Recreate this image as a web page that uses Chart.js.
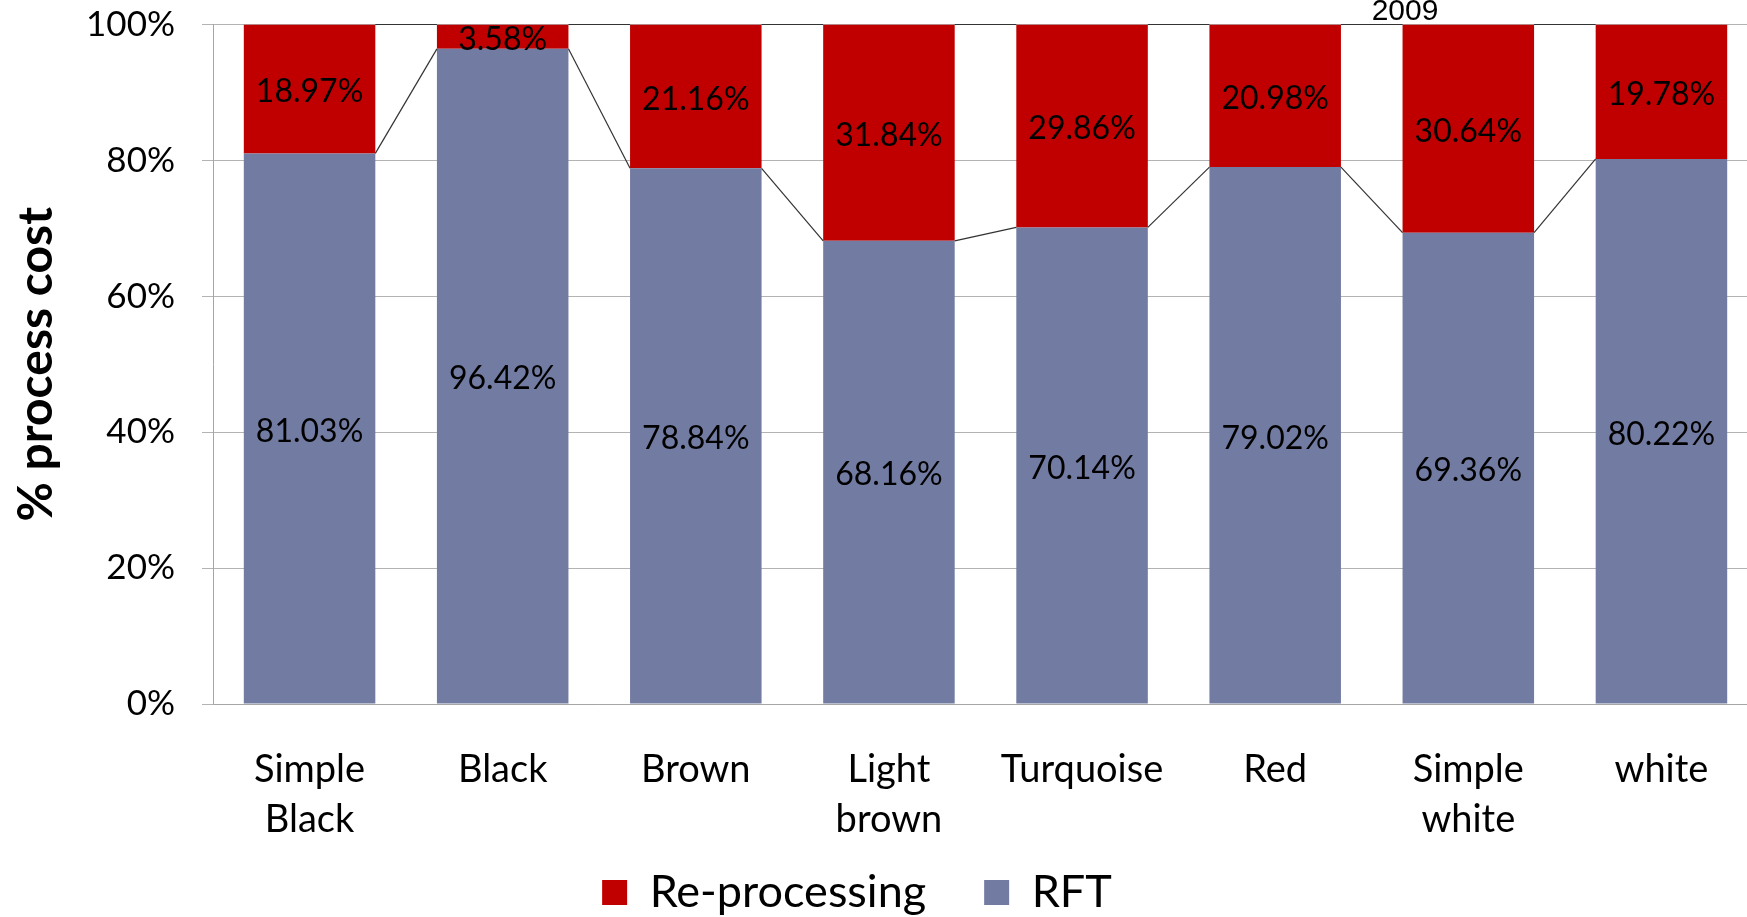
<!DOCTYPE html>
<html>
<head>
<meta charset="utf-8">
<script src="https://cdn.jsdelivr.net/npm/chart.js@4/dist/chart.umd.min.js"></script>
<style>
  html, body { margin: 0; padding: 0; background: #fff; overflow: hidden; }
  #wrap { width: 1758px; height: 917px; }
</style>
</head>
<body>
<div id="wrap"><canvas id="c" width="1758" height="917"></canvas></div>
<script>
const categories = [['Simple', 'Black'], 'Black', 'Brown', ['Light', 'brown'], 'Turquoise', 'Red', ['Simple', 'white'], 'white'];
const rftValues = [81.03, 96.42, 78.84, 68.16, 70.14, 79.02, 69.36, 80.22];
const reprocessingValues = [18.97, 3.58, 21.16, 31.84, 29.86, 20.98, 30.64, 19.78];
const yTicks = [0, 20, 40, 60, 80, 100];
const chartTitle = '2009';
const yAxisTitle = '% process cost';

const seriesLinesPlugin = {
  id: 'seriesLines',
  afterDatasetsDraw(chart) {
    const ctx = chart.ctx;
    ctx.save();
    ctx.strokeStyle = '#333333';
    ctx.lineWidth = 1.2;
    chart.data.datasets.forEach((ds, di) => {
      const meta = chart.getDatasetMeta(di);
      for (let i = 0; i < meta.data.length - 1; i++) {
        const a = meta.data[i], b = meta.data[i + 1];
        ctx.beginPath();
        ctx.moveTo(a.x + a.width / 2, a.y);
        ctx.lineTo(b.x - b.width / 2, b.y);
        ctx.stroke();
      }
    });
    ctx.restore();
  }
};

const valueLabelsPlugin = {
  id: 'valueLabels',
  afterDatasetsDraw(chart) {
    const ctx = chart.ctx;
    ctx.save();
    ctx.font = '32px Lato';
    ctx.fillStyle = '#000';
    ctx.textAlign = 'center';
    ctx.textBaseline = 'middle';
    chart.data.datasets.forEach((ds, di) => {
      const meta = chart.getDatasetMeta(di);
      meta.data.forEach((bar, i) => {
        const v = ds.data[i];
        ctx.fillText(v.toFixed(2) + '%', bar.x, (bar.y + bar.base) / 2 + 3);
      });
    });
    ctx.restore();
  }
};

const cornerTitlePlugin = {
  id: 'cornerTitle',
  afterDraw(chart, args, opts) {
    const ctx = chart.ctx;
    ctx.save();
    ctx.font = '30px "Liberation Sans", Arial, sans-serif';
    ctx.fillStyle = '#000';
    ctx.textAlign = 'center';
    ctx.textBaseline = 'alphabetic';
    ctx.fillText(opts.text, opts.x, opts.y);
    ctx.restore();
  }
};

function build() {
  new Chart(document.getElementById('c'), {
    type: 'bar',
    data: {
      labels: categories,
      datasets: [
        { label: 'RFT', data: rftValues, backgroundColor: '#727CA2', borderWidth: 0 },
        { label: 'Re-processing', data: reprocessingValues, backgroundColor: '#C00000', borderWidth: 0 }
      ]
    },
    plugins: [seriesLinesPlugin, valueLabelsPlugin, cornerTitlePlugin],
    options: {
      responsive: false,
      animation: false,
      devicePixelRatio: 1,
      layout: { padding: { top: 24.5, left: -44, right: 0, bottom: -8 } },
      datasets: { bar: { categoryPercentage: 1.0, barPercentage: 0.681 } },
      scales: {
        x: {
          stacked: true,
          grid: { display: false, drawTicks: false },
          border: { display: true, color: '#a6a6a6', width: 1 },
          ticks: {
            color: '#000',
            font: { family: 'Lato', size: 38, lineHeight: 1.316 },
            padding: 41,
            maxRotation: 0,
            autoSkip: false
          },
          afterFit(scale) { scale.height = 108; },
          afterUpdate(scale) { scale._computeLabelArea = function () { return undefined; }; }
        },
        y: {
          stacked: true,
          min: 0,
          max: 100,
          afterBuildTicks(scale) { scale.ticks = yTicks.map(v => ({ value: v })); },
          grid: { color: '#b3b3b3', lineWidth: 1, tickLength: 11, drawTicks: true },
          border: { display: true, color: '#a6a6a6', width: 1 },
          ticks: {
            color: '#000',
            font: { family: 'Lato', size: 35 },
            padding: 27,
            callback: v => v + '%'
          },
          title: {
            display: true,
            text: yAxisTitle,
            color: '#000',
            font: { family: 'Lato', size: 48, weight: 'bold' },
            padding: { top: 52, bottom: 0 }
          },
          afterFit(scale) {
            scale.width = 257;
            scale.paddingTop = 0;
            scale.paddingBottom = 0;
          }
        }
      },
      plugins: {
        legend: {
          position: 'bottom',
          reverse: true,
          labels: {
            color: '#000',
            font: { family: 'Lato', size: 45 },
            boxWidth: 25,
            boxHeight: 25,
            padding: 58
          }
        },
        title: { display: false },
        tooltip: { enabled: false },
        cornerTitle: { text: chartTitle, x: 1405, y: 19.5 }
      }
    }
  });
}

Promise.all([
  document.fonts.load('32px Lato'),
  document.fonts.load('bold 48px Lato'),
  document.fonts.load('30px "Liberation Sans"')
]).then(build, build);
</script>
</body>
</html>
